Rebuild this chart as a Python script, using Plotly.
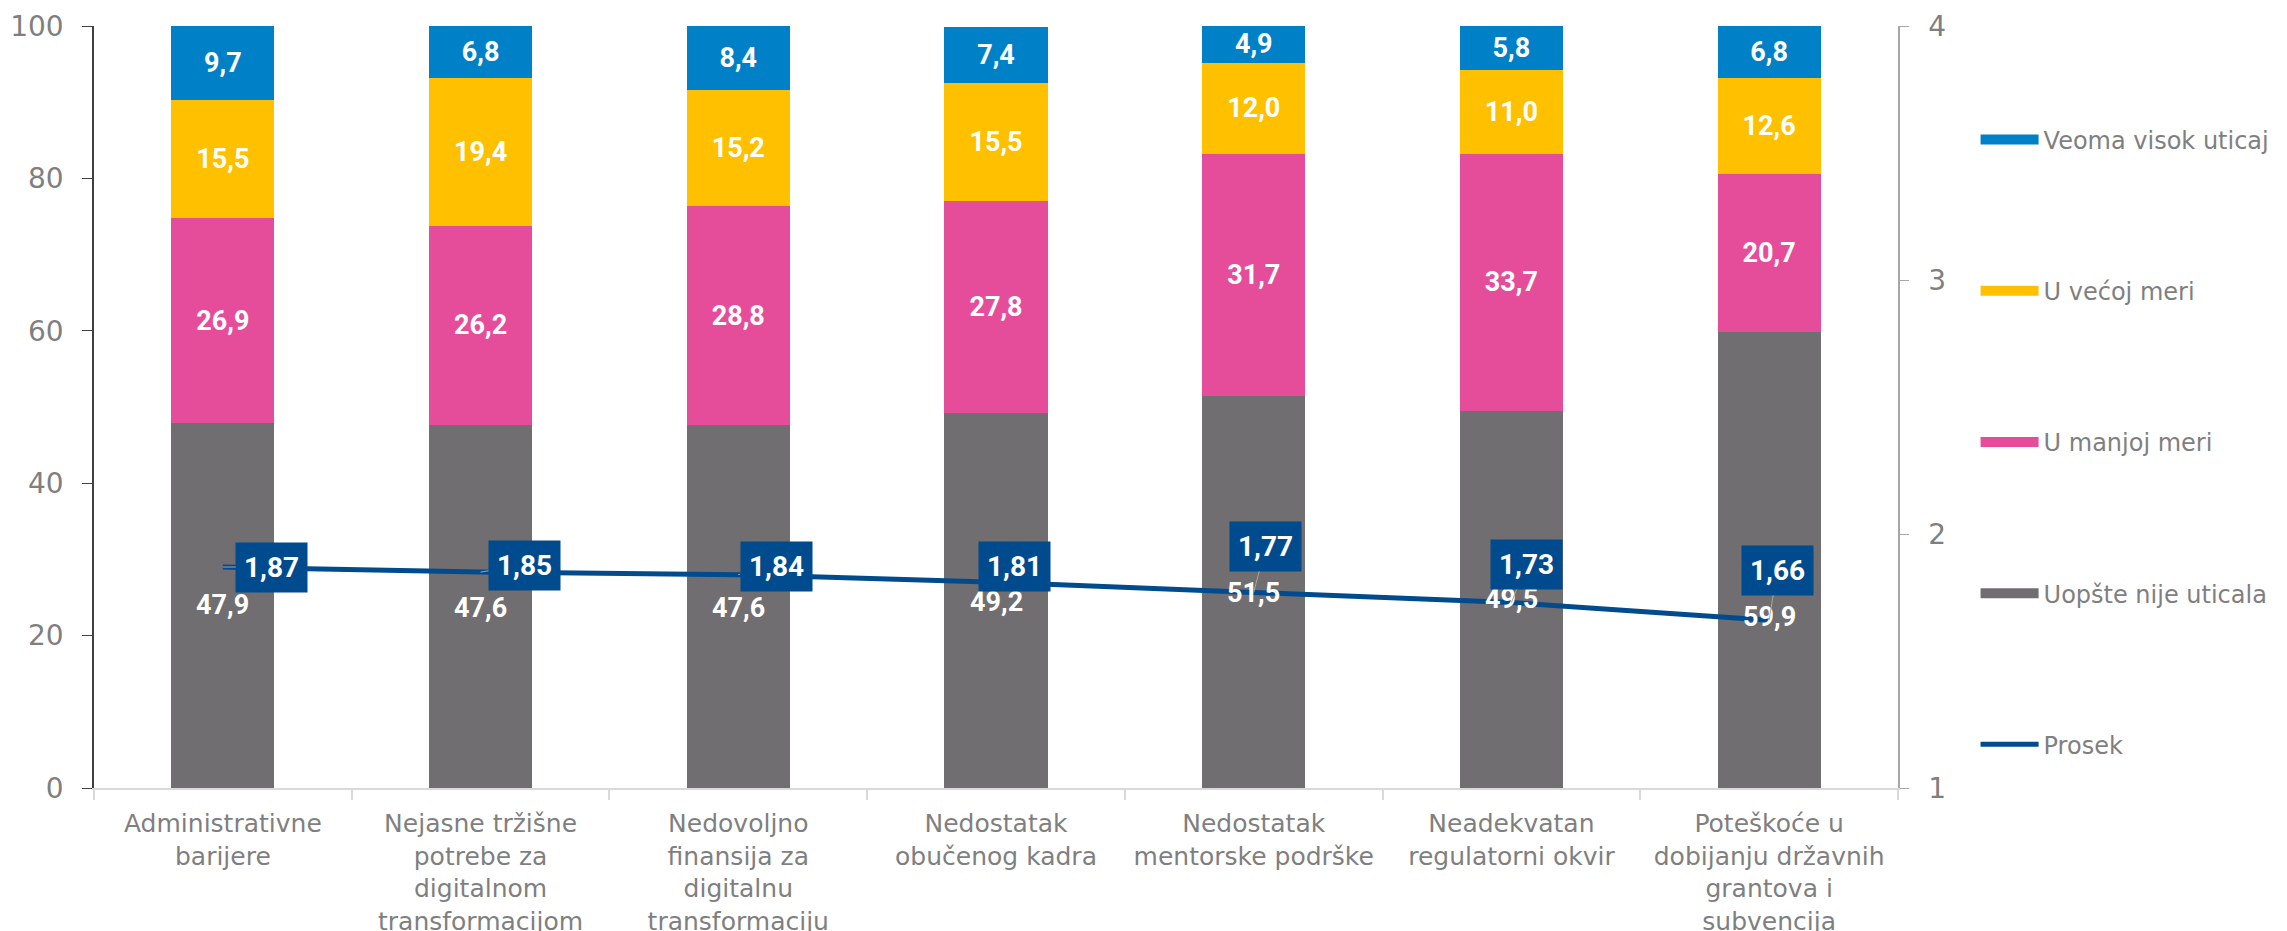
import plotly.graph_objects as go

# ---------------- data ----------------
categories = [
    "Administrativne<br>barijere",
    "Nejasne tržišne<br>potrebe za<br>digitalnom<br>transformacijom",
    "Nedovoljno<br>finansija za<br>digitalnu<br>transformaciju",
    "Nedostatak<br>obučenog kadra",
    "Nedostatak<br>mentorske podrške",
    "Neadekvatan<br>regulatorni okvir",
    "Poteškoće u<br>dobijanju državnih<br>grantova i<br>subvencija",
]
uopste_nije = [47.9, 47.6, 47.6, 49.2, 51.5, 49.5, 59.9]
u_manjoj = [26.9, 26.2, 28.8, 27.8, 31.7, 33.7, 20.7]
u_vecoj = [15.5, 19.4, 15.2, 15.5, 12.0, 11.0, 12.6]
veoma_visok = [9.7, 6.8, 8.4, 7.4, 4.9, 5.8, 6.8]
prosek = [1.87, 1.85, 1.84, 1.81, 1.77, 1.73, 1.66]

series_names = ["Uopšte nije uticala", "U manjoj meri", "U većoj meri", "Veoma visok uticaj"]

# ---------------- label placement (styling only) ----------------
gray_label_at = [24.0, 23.6, 23.6, 24.4, 25.6, 24.8, 22.4]
prosek_label_offsets = [(49, 0), (44, -7), (38, -8), (18, -16), (12, -46), (15, -38), (8, -50)]

# ---------------- styles ----------------
COL_GRAY = "#706E71"
COL_PINK = "#E54D9B"
COL_YELLOW = "#FFC000"
COL_BLUE = "#0080C7"
COL_LINE = "#004B8D"
TXT = "#7F7F7F"
FONT = "DejaVu Sans"
BOLD_FONT = "Roboto"


def fmt(v, d=1):
    return f"{v:.{d}f}".replace(".", ",")


fig = go.Figure()

bar_sets = [
    (uopste_nije, COL_GRAY, False, 4),
    (u_manjoj, COL_PINK, True, 3),
    (u_vecoj, COL_YELLOW, True, 2),
    (veoma_visok, COL_BLUE, True, 1),
]
for (vals, col, show_text, rank), name in zip(bar_sets, series_names):
    fig.add_trace(go.Bar(
        x=categories, y=vals, name=name, marker=dict(color=col, line=dict(width=0)),
        text=[fmt(v) for v in vals] if show_text else None,
        textposition="inside" if show_text else "none",
        insidetextanchor="middle", textangle=0, constraintext="none",
        textfont=dict(family=BOLD_FONT, size=27, color="white", weight="bold"),
        legendgroup=name, showlegend=False, yaxis="y", hoverinfo="skip",
    ))
    # legend entry drawn as a wide swatch
    fig.add_trace(go.Scatter(
        x=[None], y=[None], name=name, mode="lines",
        line=dict(color=col, width=16), legendgroup=name, legendrank=rank,
        showlegend=True, hoverinfo="skip",
    ))

fig.add_trace(go.Scatter(
    x=categories, y=prosek, name="Prosek", mode="lines",
    line=dict(color=COL_LINE, width=5), yaxis="y2",
    legendgroup="Prosek", legendrank=5, hoverinfo="skip",
))

annotations = []
for c, v, pos in zip(categories, uopste_nije, gray_label_at):
    annotations.append(dict(
        x=c, y=pos, xref="x", yref="y", text=fmt(v), showarrow=False,
        font=dict(family=BOLD_FONT, size=27, color="white", weight="bold"),
    ))
for c, v, (ax, ay) in zip(categories, prosek, prosek_label_offsets):
    annotations.append(dict(
        x=c, y=v, xref="x", yref="y2", text=fmt(v, 2), showarrow=True,
        ax=ax, ay=ay, arrowhead=0, arrowwidth=1, arrowcolor="#A6A6A6",
        standoff=0, startstandoff=0,
        bgcolor=COL_LINE, borderpad=8,
        font=dict(family=BOLD_FONT, size=28, color="white", weight="bold"),
    ))

fig.update_layout(
    width=2287, height=931,
    margin=dict(l=94, r=362, t=26, b=143),
    paper_bgcolor="white", plot_bgcolor="white",
    barmode="stack", bargap=0.6,
    font=dict(family=FONT, color=TXT, size=24),
    showlegend=True,
    legend=dict(
        x=1.043, xanchor="left", y=0.88, yanchor="top",
        traceorder="grouped", tracegroupgap=117, itemwidth=58,
        font=dict(family=FONT, size=24, color=TXT), bgcolor="rgba(0,0,0,0)",
    ),
    xaxis=dict(
        showline=True, linecolor="#D9D9D9", linewidth=2,
        ticks="outside", tickson="boundaries", ticklen=10, tickcolor="#D9D9D9", tickwidth=2,
        tickfont=dict(family=FONT, size=25, color=TXT), automargin=False,
        showgrid=False, zeroline=False, ticklabelstandoff=12,
    ),
    yaxis=dict(
        range=[0, 100], dtick=20, showline=True, linecolor="#404040", linewidth=1.5,
        ticks="outside", ticklen=10, tickcolor="#404040",
        tickfont=dict(family=FONT, size=28, color=TXT), showgrid=False, zeroline=False,
        automargin=False, ticklabelstandoff=13,
    ),
    yaxis2=dict(
        range=[1, 4], dtick=1, overlaying="y", side="right", showline=True,
        linecolor="#A6A6A6", linewidth=1.5, ticks="outside", ticklen=9, tickcolor="#A6A6A6",
        tickfont=dict(family=FONT, size=28, color=TXT), showgrid=False, zeroline=False,
        automargin=False, ticklabelstandoff=14,
    ),
    annotations=annotations,
)

fig.write_html(
    "out.html",
    config={"displayModeBar": False},
    post_script="document.body.style.margin='0px';document.body.style.overflow='hidden';",
)
